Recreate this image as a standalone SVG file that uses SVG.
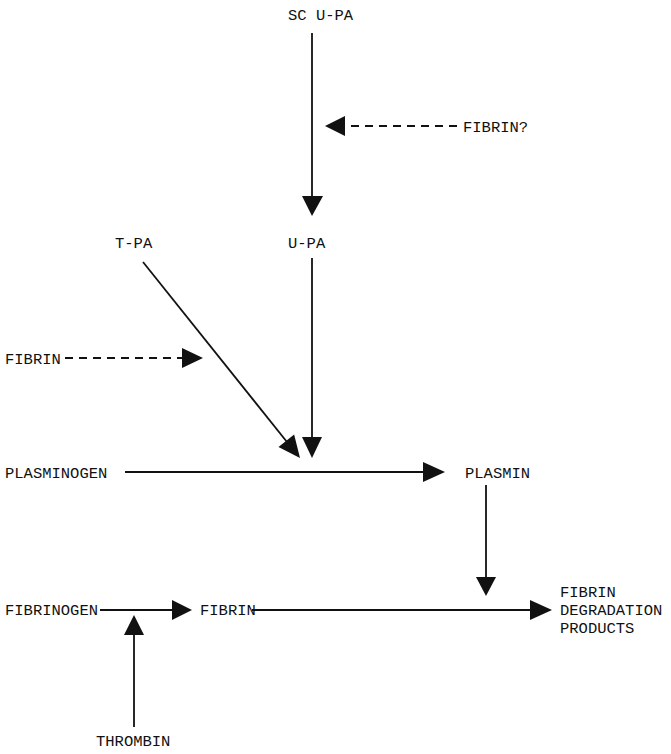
<svg xmlns="http://www.w3.org/2000/svg" width="671" height="754" viewBox="0 0 671 754">
<style>
text{font-family:"Liberation Mono","DejaVu Sans Mono",monospace;font-size:15.5px;fill:#111}
.ln{stroke:#111;stroke-width:1.8;fill:none}
.ds{stroke:#111;stroke-width:1.8;fill:none;stroke-dasharray:8 6}
.hd{fill:#111;stroke:none}
</style>
<rect width="671" height="754" fill="#fff"/>
<g id="connectors">
<line class="ln" x1="312" y1="33" x2="312" y2="198"/>
<polygon class="hd" points="302,196 323,196 312,216"/>
<line class="ds" x1="457" y1="126" x2="344" y2="126"/>
<polygon class="hd" points="345,116 345,136 325,126"/>
<line class="ln" x1="143" y1="262" x2="287" y2="442"/>
<polygon class="hd" points="278.5,447 294.1,434.6 300,458"/>
<line class="ln" x1="312" y1="258" x2="312" y2="439"/>
<polygon class="hd" points="302,437 322,437 312,458"/>
<line class="ds" x1="65" y1="358" x2="183" y2="358"/>
<polygon class="hd" points="182,348 182,368 203,358"/>
<line class="ln" x1="125" y1="472" x2="425" y2="472"/>
<polygon class="hd" points="423,462 423,482 445,472"/>
<line class="ln" x1="486" y1="485" x2="486" y2="579"/>
<polygon class="hd" points="476,577 496,577 486,596"/>
<line class="ln" x1="100" y1="610" x2="174" y2="610"/>
<polygon class="hd" points="172,600 172,620 192,610"/>
<line class="ln" x1="252" y1="610" x2="532" y2="610"/>
<polygon class="hd" points="530,600 530,620 552,610"/>
<line class="ln" x1="134" y1="727" x2="134" y2="633"/>
<polygon class="hd" points="124,635 144,635 134,615"/>
</g>
<g id="sc-upa"><text x="288" y="20">SC U-PA</text></g>
<g id="fibrin-q"><text x="463" y="132">FIBRIN?</text></g>
<g id="tpa"><text x="115" y="248">T-PA</text></g>
<g id="upa"><text x="288" y="248">U-PA</text></g>
<g id="fibrin-left"><text x="5" y="364">FIBRIN</text></g>
<g id="plasminogen"><text x="5" y="478">PLASMINOGEN</text></g>
<g id="plasmin"><text x="465" y="478">PLASMIN</text></g>
<g id="fibrinogen"><text x="5" y="615">FIBRINOGEN</text></g>
<g id="fibrin"><text x="200" y="615">FIBRIN</text></g>
<g id="fdp"><text x="560" y="597">FIBRIN</text><text x="560" y="615">DEGRADATION</text><text x="560" y="633">PRODUCTS</text></g>
<g id="thrombin"><text x="96" y="746">THROMBIN</text></g>
</svg>
